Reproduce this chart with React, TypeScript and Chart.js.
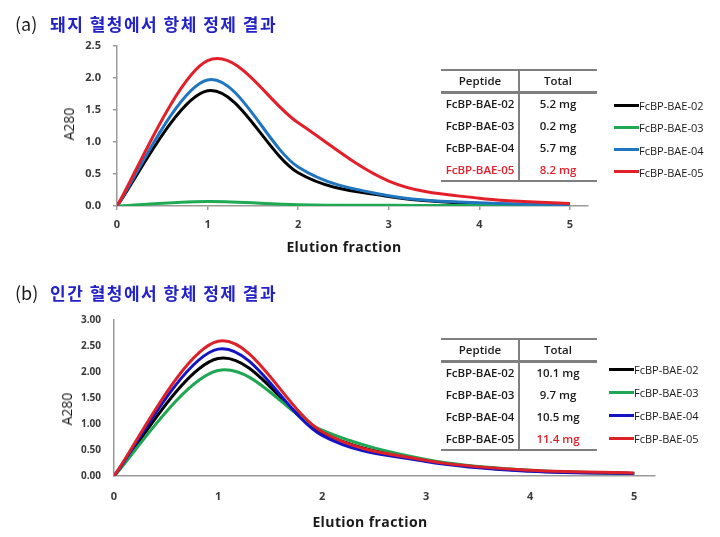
import React, { useEffect, useRef } from "react";
import { Chart, registerables } from "chart.js";

Chart.register(...registerables);

// ---------------- data ----------------
const FRACTIONS = [0, 1, 2, 3, 4, 5];
const X_TICKS = [0, 1, 2, 3, 4, 5];
const SERIES_NAMES = ["FcBP-BAE-02", "FcBP-BAE-03", "FcBP-BAE-04", "FcBP-BAE-05"];

// (a) pig serum
const PIG_02 = [0, 1.8, 0.52, 0.15, 0.04, 0.02];
const PIG_03 = [0, 0.07, 0.02, 0.01, 0.01, 0.01];
const PIG_04 = [0, 1.97, 0.61, 0.16, 0.05, 0.02];
const PIG_05 = [0, 2.27, 1.3, 0.39, 0.12, 0.04];
const PIG_Y_TICKS = [0, 0.5, 1, 1.5, 2, 2.5];
const PIG_TOTALS = ["5.2 mg", "0.2 mg", "5.7 mg", "8.2 mg"];

// (b) human serum
const HUMAN_02 = [0, 2.26, 0.83, 0.3, 0.1, 0.05];
const HUMAN_03 = [0, 2.03, 0.88, 0.32, 0.11, 0.05];
const HUMAN_04 = [0, 2.44, 0.78, 0.28, 0.09, 0.05];
const HUMAN_05 = [0, 2.59, 0.85, 0.3, 0.11, 0.06];
const HUMAN_Y_TICKS = [0, 0.5, 1, 1.5, 2, 2.5, 3];
const HUMAN_TOTALS = ["10.1 mg", "9.7 mg", "10.5 mg", "11.4 mg"];

const TITLE_A = "돼지 혈청에서 항체 정제 결과";
const TITLE_B = "인간 혈청에서 항체 정제 결과";
const X_TITLE = "Elution fraction";
const Y_TITLE = "A280";
const TABLE_HEAD = ["Peptide", "Total"];

// ---------------- styles ----------------
const COLORS_A = ["#000000", "#1eaa52", "#1f75c0", "#e3202a"];
const COLORS_B = ["#000000", "#1fa653", "#1414c4", "#dc2128"];
const RED_TEXT = "#e4202c";
const AXIS_GRAY = "#9a9a9a";
const TICK_COLOR = "#3a3a3a";
const LATIN = '"Open Sans", "Liberation Sans", Arial, sans-serif';
const KOREAN = '"Noto Sans CJK KR", "Noto Sans", sans-serif';

// Spreadsheet-style smoothing (Catmull-Rom through the plotted points)
const smoothLines = {
  id: "smoothLines",
  beforeDatasetDraw(_chart: any, args: any) {
    const meta = args.meta;
    const pts = meta.data;
    const line = meta.dataset;
    if (!line || !pts || pts.length < 2) return;
    const n = pts.length;
    for (let i = 0; i < n; i++) {
      const p = pts[i];
      const a = pts[Math.max(0, i - 1)];
      const b = pts[Math.min(n - 1, i + 1)];
      const dx = (b.x - a.x) / 6;
      const dy = (b.y - a.y) / 6;
      p.cp1x = p.x - dx;
      p.cp1y = p.y - dy;
      p.cp2x = p.x + dx;
      p.cp2y = p.y + dy;
    }
    line._pointsUpdated = true;
    line._path = undefined;
  },
};

type PanelProps = {
  canvasTop: number;
  canvasHeight: number;
  area: { left: number; right: number; top: number; bottom: number };
  series: number[][];
  colors: string[];
  yTicks: number[];
  decimals: number;
  yFontSize: number;
  tickMarks: boolean;
  xPad: number;
  yPad: number;
};

function PanelChart(p: PanelProps) {
  const ref = useRef<HTMLCanvasElement | null>(null);
  useEffect(() => {
    if (!ref.current) return;
    const W = 720;
    const H = p.canvasHeight;
    const bottomInCanvas = p.area.bottom - p.canvasTop;
    const topInCanvas = p.area.top - p.canvasTop;
    const n = p.series.length;
    const chart = new Chart(ref.current, {
      type: "line",
      data: {
        datasets: p.series.map((vals, i) => ({
          label: SERIES_NAMES[i],
          data: FRACTIONS.map((x, j) => ({ x, y: vals[j] })),
          borderColor: p.colors[i],
          backgroundColor: p.colors[i],
          borderWidth: 3,
          pointRadius: 0,
          tension: 0.3,
          fill: false,
          order: n - i,
        })),
      },
      plugins: [smoothLines],
      options: {
        responsive: false,
        animation: false,
        events: [],
        layout: {
          padding: {
            left: 0,
            top: topInCanvas,
            right: W - p.area.right,
            bottom: 0,
          },
        },
        plugins: {
          legend: { display: false },
          title: { display: false },
          tooltip: { enabled: false },
        },
        scales: {
          x: {
            type: "linear",
            min: 0,
            max: 5.2,
            afterBuildTicks: (s: any) => {
              s.ticks = X_TICKS.map((v) => ({ value: v }));
            },
            afterFit: (s: any) => {
              s.height = H - bottomInCanvas;
            },
            grid: {
              display: p.tickMarks,
              drawOnChartArea: false,
              drawTicks: p.tickMarks,
              tickLength: 4,
              color: AXIS_GRAY,
              lineWidth: 1.5,
            },
            border: { display: true, color: AXIS_GRAY, width: 1.5 },
            ticks: {
              padding: p.xPad,
              color: TICK_COLOR,
              font: { family: LATIN, size: 11, weight: "bold" },
              maxRotation: 0,
              callback: (v: any) => String(v),
            },
          },
          y: {
            type: "linear",
            min: 0,
            max: p.yTicks[p.yTicks.length - 1],
            afterBuildTicks: (s: any) => {
              s.ticks = p.yTicks.map((v) => ({ value: v }));
            },
            afterFit: (s: any) => {
              s.width = p.area.left;
            },
            grid: {
              display: p.tickMarks,
              drawOnChartArea: false,
              drawTicks: p.tickMarks,
              tickLength: 4,
              color: AXIS_GRAY,
              lineWidth: 1.5,
            },
            border: { display: true, color: AXIS_GRAY, width: 1.5 },
            ticks: {
              padding: p.yPad,
              color: TICK_COLOR,
              font: { family: LATIN, size: p.yFontSize, weight: "bold" },
              callback: (v: any) => Number(v).toFixed(p.decimals),
            },
          },
        },
      } as any,
    });
    return () => chart.destroy();
  }, []);
  return (
    <canvas
      ref={ref}
      width={720}
      height={p.canvasHeight}
      style={{ position: "absolute", left: 0, top: p.canvasTop, width: 720, height: p.canvasHeight }}
    />
  );
}

function T(props: {
  x: number;
  y: number;
  text: string;
  size: number;
  align?: "left" | "center";
  weight?: number;
  color?: string;
  family?: string;
  spacing?: number;
  rotate?: boolean;
}) {
  const { x, y, text, size, align = "left", weight = 400, color = "#1a1a1a", family = LATIN, spacing = 0, rotate } = props;
  let transform = align === "center" ? "translate(-50%, -50%)" : "translate(0, -50%)";
  if (rotate) transform = "translate(-50%, -50%) rotate(-90deg)";
  return (
    <div
      style={{
        position: "absolute",
        left: x,
        top: y,
        transform,
        fontFamily: family,
        fontSize: size,
        fontWeight: weight,
        color,
        letterSpacing: spacing,
        lineHeight: 1,
        whiteSpace: "nowrap",
      }}
    >
      {text}
    </div>
  );
}

function Line(props: { x: number; y: number; w: number; h: number; color: string }) {
  return (
    <div
      style={{
        position: "absolute",
        left: props.x,
        top: props.y,
        width: props.w,
        height: props.h,
        background: props.color,
      }}
    />
  );
}

function SummaryTable(props: { top: number; totals: string[]; redName: boolean }) {
  const { top, totals, redName } = props;
  const left = 441;
  const right = 597;
  const mid = 519;
  const c1 = (left + mid) / 2;
  const c2 = (mid + right) / 2;
  const g = "#7f7f7f";
  const rowOffsets = [35, 57, 79, 101];
  return (
    <>
      <Line x={left} y={top} w={right - left} h={2} color={g} />
      <Line x={left} y={top + 22} w={right - left} h={3} color={g} />
      <Line x={left} y={top + 111} w={right - left} h={2} color={g} />
      <Line x={mid - 1} y={top} w={2} h={113} color={g} />
      <T x={c1} y={top + 12} text={TABLE_HEAD[0]} size={11.5} align="center" weight={600} />
      <T x={c2} y={top + 12} text={TABLE_HEAD[1]} size={11.5} align="center" weight={600} />
      {SERIES_NAMES.map((name, i) => {
        const last = i === SERIES_NAMES.length - 1;
        return (
          <React.Fragment key={name}>
            <T
              x={c1}
              y={top + rowOffsets[i]}
              text={name}
              size={11.5}
              align="center"
              weight={600}
              color={last && redName ? RED_TEXT : "#1a1a1a"}
            />
            <T
              x={c2}
              y={top + rowOffsets[i]}
              text={totals[i]}
              size={11.5}
              align="center"
              weight={600}
              color={last ? RED_TEXT : "#1a1a1a"}
            />
          </React.Fragment>
        );
      })}
    </>
  );
}

function Legend(props: { x: number; y0: number; step: number; colors: string[] }) {
  const { x, y0, step, colors } = props;
  return (
    <>
      {SERIES_NAMES.map((name, i) => (
        <React.Fragment key={name}>
          <Line x={x} y={y0 + i * step - 1.5} w={25} h={3} color={colors[i]} />
          <T x={x + 25} y={y0 + i * step} text={name} size={11} weight={500} />
        </React.Fragment>
      ))}
    </>
  );
}

export default function App() {
  return (
    <div
      style={{
        position: "absolute",
        left: 0,
        top: 0,
        width: 720,
        height: 537,
        background: "#ffffff",
        overflow: "hidden",
      }}
    >
      {/* panel (a) */}
      <PanelChart
        canvasTop={0}
        canvasHeight={265}
        area={{ left: 117, right: 588, top: 46, bottom: 206 }}
        series={[PIG_02, PIG_03, PIG_04, PIG_05]}
        colors={COLORS_A}
        yTicks={PIG_Y_TICKS}
        decimals={1}
        yFontSize={11}
        tickMarks={true}
        xPad={8}
        yPad={12}
      />
      <T x={15} y={23} text="(a)" size={18} family={KOREAN} />
      <T x={50} y={23} text={TITLE_A} size={17} weight={700} color="#2222c8" family={KOREAN} spacing={1.5} />
      <T x={69} y={124} text={Y_TITLE} size={14} rotate />
      <T x={344} y={247} text={X_TITLE} size={14} weight={700} align="center" spacing={0.4} />
      <SummaryTable top={69} totals={PIG_TOTALS} redName={true} />
      <Legend x={614} y0={105} step={22.3} colors={COLORS_A} />

      {/* panel (b) */}
      <PanelChart
        canvasTop={270}
        canvasHeight={267}
        area={{ left: 114, right: 655, top: 320, bottom: 476 }}
        series={[HUMAN_02, HUMAN_03, HUMAN_04, HUMAN_05]}
        colors={COLORS_B}
        yTicks={HUMAN_Y_TICKS}
        decimals={2}
        yFontSize={10}
        tickMarks={false}
        xPad={14}
        yPad={13}
      />
      <T x={15} y={292} text="(b)" size={18} family={KOREAN} />
      <T x={50} y={292} text={TITLE_B} size={17} weight={700} color="#2222c8" family={KOREAN} spacing={1.5} />
      <T x={67} y={409} text={Y_TITLE} size={14} rotate />
      <T x={370} y={522} text={X_TITLE} size={14} weight={700} align="center" spacing={0.4} />
      <SummaryTable top={338} totals={HUMAN_TOTALS} redName={false} />
      <Legend x={609} y0={369} step={23} colors={COLORS_B} />
    </div>
  );
}
